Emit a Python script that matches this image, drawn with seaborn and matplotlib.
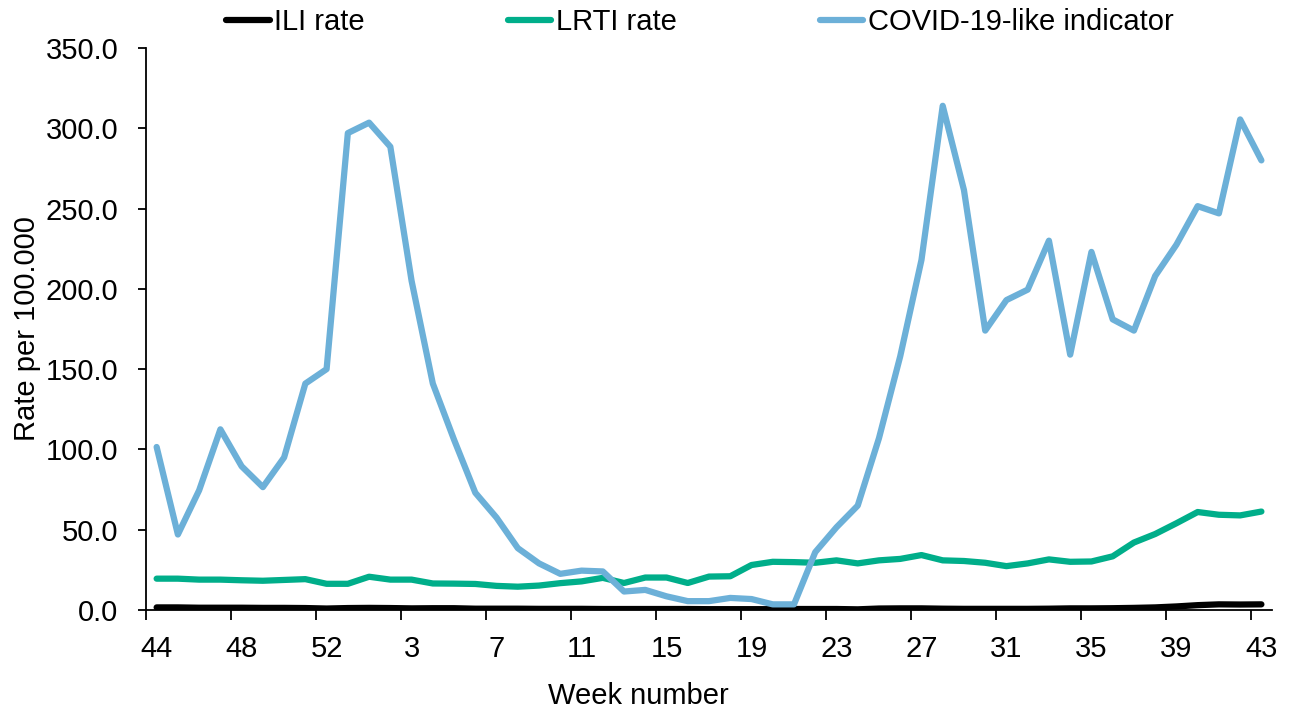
import matplotlib
matplotlib.use("Agg")
import matplotlib.pyplot as plt
from matplotlib.ticker import FixedLocator, FormatStrFormatter
import numpy as np
import pandas as pd
import seaborn as sns

# weeks 44-53 of the first year, then 1-43 of the next
weeks = list(range(44, 54)) + list(range(1, 44))

ili_rate = [1.6, 1.6, 1.4, 1.4, 1.4, 1.3, 1.3, 1.2, 0.9, 1.2,
            1.3, 1.2, 1.0, 1.1, 1.1, 0.8, 0.8, 0.8, 0.7, 0.7,
            0.7, 0.6, 0.6, 0.6, 0.6, 0.6, 0.5, 0.5, 0.5, 0.5,
            0.6, 0.6, 0.6, 0.4, 0.9, 1.0, 1.0, 0.8, 0.7, 0.7,
            0.7, 0.7, 0.8, 1.0, 1.0, 1.1, 1.3, 1.6, 2.2, 3.0,
            3.5, 3.4, 3.5]

lrti_rate = [19.5, 19.5, 18.9, 18.9, 18.5, 18.2, 18.7, 19.2, 16.3, 16.3,
             20.7, 18.9, 18.9, 16.5, 16.4, 16.2, 15.0, 14.5, 15.2, 16.7,
             17.8, 20.0, 16.8, 20.2, 20.2, 16.8, 20.8, 21.0, 28.0, 30.0,
             29.8, 29.4, 30.9, 29.0, 30.9, 31.8, 34.2, 30.9, 30.5, 29.4,
             27.3, 29.0, 31.5, 30.0, 30.2, 33.4, 42.0, 47.3, 54.0, 61.0,
             59.3, 58.9, 61.3]

covid_like = [101.5, 47.0, 74.5, 112.5, 89.5, 76.5, 95.0, 141.0, 150.0, 297.0,
              303.5, 288.5, 205.0, 141.0, 106.0, 73.0, 57.5, 38.5, 29.0, 22.5,
              24.5, 24.0, 11.5, 12.5, 8.5, 5.5, 5.5, 7.5, 6.8, 3.5,
              3.5, 36.0, 51.5, 65.0, 107.0, 158.0, 218.0, 314.0, 261.5, 174.0,
              193.0, 199.5, 230.0, 159.0, 223.0, 181.0, 174.0, 208.0, 227.5, 251.5,
              247.0, 305.5, 280.0]

series_names = ["ILI rate", "LRTI rate", "COVID-19-like indicator"]
colors = ["#000000", "#00AE8A", "#6CB0D8"]

idx = np.arange(len(weeks))
df = pd.DataFrame({
    "pos": np.tile(idx, 3),
    "value": ili_rate + lrti_rate + covid_like,
    "series": np.repeat(series_names, len(weeks)),
})

sns.set_style("ticks")
plt.rcParams["font.family"] = ["Liberation Sans", "DejaVu Sans"]
plt.rcParams.update({
    "text.color": "black",
    "axes.labelcolor": "black",
    "xtick.color": "black",
    "ytick.color": "black",
})

fig = plt.figure(figsize=(12.91, 7.13), dpi=100)
ax = fig.add_axes([0.1131, 0.1445, 0.8722, 0.7882])

sns.lineplot(
    data=df, x="pos", y="value", hue="series",
    hue_order=series_names, palette=colors,
    linewidth=4.5, ax=ax, legend=False,
    solid_capstyle="round", solid_joinstyle="round",
)

ax.set_xlim(-0.5, len(weeks) - 0.5)
ax.set_ylim(0, 350)
ax.set_yticks(np.arange(0, 351, 50))
ax.yaxis.set_major_formatter(FormatStrFormatter("%.1f"))

# labels centred on categories, tick marks between categories (Excel style)
label_pos = idx[::4]
ax.set_xticks(label_pos)
ax.set_xticklabels([str(weeks[i]) for i in label_pos])
ax.xaxis.set_minor_locator(FixedLocator(label_pos - 0.5))
ax.tick_params(axis="x", which="major", length=0, pad=18, labelsize=21)
ax.tick_params(axis="x", which="minor", length=7, width=1.3)
ax.tick_params(axis="y", length=6, width=1.3, labelsize=21, pad=14)

for side in ["top", "right"]:
    ax.spines[side].set_visible(False)
for side in ["left", "bottom"]:
    ax.spines[side].set_linewidth(1.3)
    ax.spines[side].set_color("black")

ax.set_xlabel("Week number", fontsize=21)
ax.xaxis.set_label_coords((638 - 146) / 1126, -0.128)
ax.set_ylabel("Rate per 100.000", fontsize=21, labelpad=3)

handles = [plt.Line2D([], [], color=c, linewidth=4.5, solid_capstyle="round") for c in colors]
fig.legend(handles, series_names, loc="upper center", bbox_to_anchor=(0.542, 1.025),
           ncol=3, frameon=False, fontsize=21, handlelength=1.5,
           handletextpad=0.15, columnspacing=4.9)

fig.savefig("out.png", dpi=100)
plt.close(fig)
